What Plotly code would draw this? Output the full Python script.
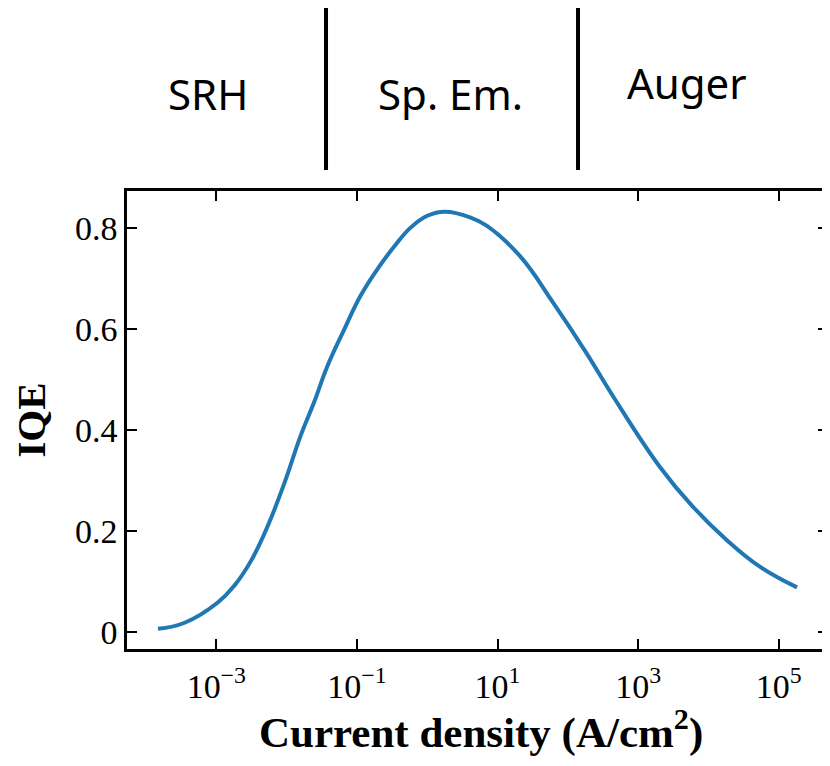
import plotly.graph_objects as go

# Data
current_density = [1.48e-4, 3.55e-4, 1.05e-3, 1.82e-3, 3.16e-3, 5.37e-3, 9.33e-3, 1.58e-2,
                   2.45e-2, 3.80e-2, 6.61e-2, 0.112, 0.195, 0.339, 0.575, 1.0, 1.78,
                   4.07, 7.08, 20.9, 61.7, 182, 437, 2000, 5890, 17800, 52500, 182000]
iqe = [0.007, 0.019, 0.059, 0.093, 0.143, 0.210, 0.296, 0.389,
       0.455, 0.527, 0.600, 0.666, 0.719, 0.764, 0.801, 0.825, 0.833,
       0.822, 0.805, 0.745, 0.653, 0.554, 0.468, 0.329, 0.250, 0.184, 0.131, 0.089]

x_tickvals = [1e-3, 1e-1, 1e1, 1e3, 1e5]
x_ticktext = ["10<sup>\u22123</sup>", "10<sup>\u22121</sup>", "10<sup>1</sup>",
              "10<sup>3</sup>", "10<sup>5</sup>"]
y_tickvals = [0, 0.2, 0.4, 0.6, 0.8]
y_ticktext = ["0", "0.2", "0.4", "0.6", "0.8"]

regions = ["SRH", "Sp. Em.", "Auger"]
x_title = "<b>Current density (A/cm<sup>2</sup>)</b>"

fig = go.Figure()
fig.add_trace(go.Scatter(x=current_density, y=iqe, mode="lines",
                         line=dict(color="#1f77b4", width=4, shape="spline", smoothing=1.2),
                         showlegend=False))

serif = "Liberation Serif, Times New Roman, serif"
axis_common = dict(showline=True, linecolor="black", linewidth=2.5, mirror="ticks",
                   ticks="inside", ticklen=10, tickwidth=2, tickcolor="black",
                   showgrid=False, zeroline=False, automargin=False)

fig.update_xaxes(type="log", range=[-4.27, 5.70], tickvals=x_tickvals, ticktext=x_ticktext,
                 tickfont=dict(family=serif, size=34, color="black"), ticklabelstandoff=5,
                 **axis_common)
fig.update_yaxes(range=[-0.033, 0.874], tickvals=y_tickvals, ticktext=y_ticktext,
                 tickfont=dict(family=serif, size=34, color="black"),
                 title=dict(text="<b>IQE</b>", font=dict(family=serif, size=41, color="black"),
                            standoff=19),
                 **axis_common)

# x-axis title placed as an annotation for precise vertical placement
fig.add_annotation(text=x_title, xref="paper", yref="paper", x=0.505, y=-0.176,
                   showarrow=False, xanchor="center", yanchor="middle",
                   font=dict(family=serif, size=43, color="black"))

# Region separators and labels above the plot
for xp in [0.2839, 0.6434]:
    fig.add_shape(type="line", xref="paper", yref="paper", x0=xp, x1=xp, y0=1.0459, y1=1.3996,
                  line=dict(color="black", width=4))
for label, xp, yp in zip(regions, [0.1156, 0.4608, 0.7989], [1.2118, 1.2118, 1.2360]):
    fig.add_annotation(text=label, xref="paper", yref="paper", x=xp, y=yp, showarrow=False,
                       xanchor="center", yanchor="middle",
                       font=dict(family="Noto Sans, Open Sans, sans-serif", size=42, color="black"))

# The page adds an 8px body margin, so the figure is 8px smaller than the window
fig.update_layout(width=822, height=758, margin=dict(l=119, r=2, t=183, b=117),
                  paper_bgcolor="white", plot_bgcolor="white")
fig.write_html("out.html")
